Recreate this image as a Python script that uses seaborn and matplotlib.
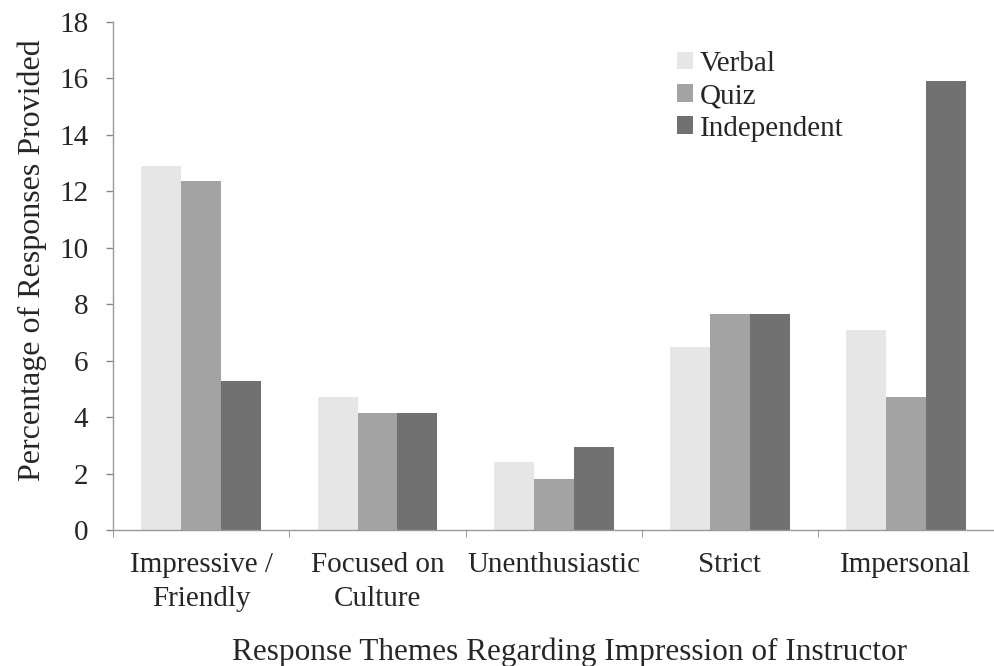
import pandas as pd
import seaborn as sns
import matplotlib.pyplot as plt
from matplotlib.ticker import FixedLocator

# ---- Data
themes = ['Impressive /\nFriendly', 'Focused on\nCulture', 'Unenthusiastic', 'Strict', 'Impersonal']
verbal = [12.9, 4.7, 2.4, 6.5, 7.1]
quiz = [12.35, 4.15, 1.8, 7.65, 4.7]
independent = [5.3, 4.15, 2.95, 7.65, 15.9]
groups = ['Verbal', 'Quiz', 'Independent']
colors = ['#e6e6e6', '#a3a3a3', '#717171']

table = pd.DataFrame({'Theme': themes * 3,
                      'Group': [g for g in groups for _ in themes],
                      'Value': verbal + quiz + independent})

# ---- Plot
sns.set_style('white')
plt.rcParams['font.family'] = ['Liberation Serif', 'DejaVu Serif']

fig, ax = plt.subplots(figsize=(9.94, 6.66), dpi=100)
fig.subplots_adjust(left=0.114, right=1.0, bottom=0.204, top=0.967)

sns.barplot(data=table, x='Theme', y='Value', hue='Group', palette=colors,
            width=0.68, saturation=1, linewidth=0, ax=ax)

ax.set_xlim(-0.5, len(themes) - 0.5)
ax.set_ylim(0, 18)
ax.set_yticks(range(0, 19, 2))
ax.tick_params(axis='y', labelsize=21, length=5, direction='out', color='#888888', width=1, pad=13, left=True)
ax.tick_params(axis='x', which='major', labelsize=21, length=0, pad=16)
ax.xaxis.set_minor_locator(FixedLocator([i - 0.5 for i in range(len(themes) + 1)]))
ax.tick_params(axis='x', which='minor', length=5, direction='out', color='#888888', bottom=True)
for lbl in ax.get_xticklabels():
    lbl.set_linespacing(1.4)

for side in ['top', 'right']:
    ax.spines[side].set_visible(False)
for side in ['left', 'bottom']:
    ax.spines[side].set_color('#999999')
    ax.spines[side].set_linewidth(1)

ax.set_xlabel('Response Themes Regarding Impression of Instructor', fontsize=22.5, labelpad=18)
ax.set_ylabel('Percentage of Responses Provided', fontsize=23, labelpad=9)
ax.xaxis.label.set_x(0.518)
ax.yaxis.label.set_y(0.531)

ax.legend(frameon=False, fontsize=21, loc='upper left', bbox_to_anchor=(0.61, 0.995),
          handlelength=0.55, handleheight=0.55, handletextpad=0.25, labelspacing=0.22)

plt.savefig('out.png')
